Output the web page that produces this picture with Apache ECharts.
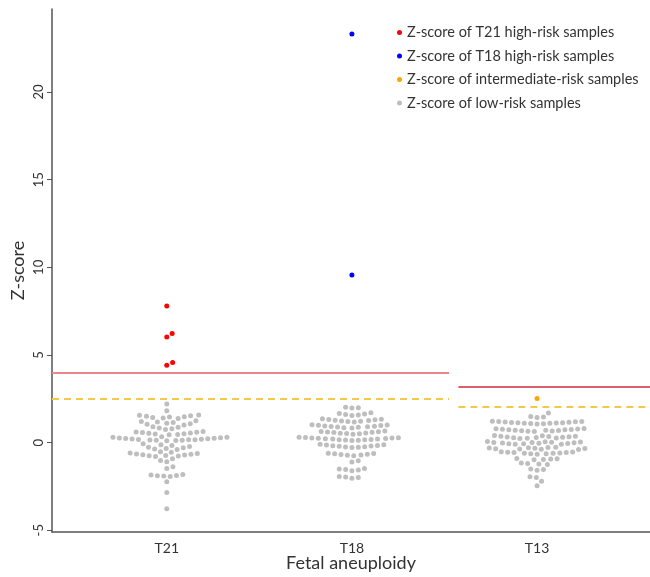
<!DOCTYPE html>
<html>
<head>
<meta charset="utf-8">
<script src="https://cdn.jsdelivr.net/npm/echarts@6/dist/echarts.min.js"></script>
<style>
  html, body { margin: 0; padding: 0; background: #fff; }
  #chart { width: 650px; height: 577px; }
</style>
</head>
<body>
<div id="chart"></div>
<script>
// categories on the x axis
var groups = ['T21', 'T18', 'T13'];

// low-risk Z-scores per group
var lowT21 = [2.20, 1.82,
    1.58, 1.56, 1.53, 1.51, 1.48, 1.46, 1.43, 1.41, 1.38,
    1.25, 1.21, 1.18, 1.15, 1.11, 1.08, 1.05, 1.01,
    0.91, 0.87, 0.83, 0.79, 0.75,
    0.63, 0.61, 0.59, 0.57, 0.55, 0.53, 0.51, 0.49, 0.47, 0.45,
    0.33, 0.31, 0.30, 0.28, 0.27, 0.25, 0.24, 0.22, 0.21, 0.19, 0.18, 0.17, 0.16, 0.15, 0.14, 0.13, 0.12, 0.11,
    -0.07, -0.12, -0.17, -0.22, -0.27, -0.30, -0.33, -0.37, -0.40,
    -0.52, -0.55, -0.59, -0.62, -0.65, -0.67, -0.69, -0.71, -0.73, -0.75, -0.77, -0.79,
    -0.92, -1.02, -1.09,
    -1.37, -1.47,
    -1.82, -1.85, -1.87, -1.89, -1.91, -1.93,
    -2.24, -2.84, -3.78];
var lowT18 = [2.02, 1.99, 1.97,
    1.70, 1.66, 1.63, 1.60, 1.57, 1.54,
    1.36, 1.34, 1.32, 1.30, 1.28, 1.26, 1.24, 1.22, 1.20, 1.18,
    1.02, 1.00, 0.99, 0.97, 0.95, 0.93, 0.92, 0.90, 0.89, 0.87, 0.85, 0.84,
    0.66, 0.64, 0.62, 0.61, 0.59, 0.57, 0.55, 0.54, 0.52, 0.50, 0.48,
    0.30, 0.29, 0.28, 0.27, 0.26, 0.25, 0.23, 0.22, 0.21, 0.20, 0.18, 0.17, 0.16, 0.15, 0.13, 0.12,
    -0.10, -0.12, -0.14, -0.16, -0.18, -0.19, -0.21, -0.23, -0.25, -0.26, -0.28,
    -0.60, -0.62, -0.64, -0.66, -0.68, -0.70, -0.72, -0.75,
    -1.03, -1.10,
    -1.47, -1.50, -1.53, -1.56, -1.60,
    -1.93, -1.96, -1.99, -2.03];
var lowT13 = [1.69,
    1.49, 1.46, 1.43,
    1.22, 1.21, 1.20, 1.19, 1.17, 1.16, 1.15, 1.14, 1.13, 1.12, 1.11, 1.10, 1.09, 1.07, 1.06,
    0.80, 0.79, 0.78, 0.76, 0.75, 0.74, 0.73, 0.71, 0.70, 0.69, 0.68, 0.66, 0.65, 0.64,
    0.40, 0.39, 0.37, 0.36, 0.35, 0.33, 0.32, 0.31, 0.29, 0.28, 0.27, 0.25, 0.24,
    0.06, 0.05, 0.04, 0.02, 0.01, 0.00, -0.01, -0.02, -0.04, -0.05, -0.06, -0.07, -0.09, -0.10,
    -0.27, -0.28, -0.30, -0.31, -0.32, -0.34, -0.35, -0.36, -0.38, -0.39,
    -0.52, -0.53, -0.55, -0.56, -0.57, -0.59, -0.60, -0.61, -0.63, -0.64, -0.66,
    -0.90, -0.92, -0.94, -0.96, -0.98,
    -1.16, -1.19, -1.22, -1.25,
    -1.51, -1.54, -1.57,
    -1.95, -1.99,
    -2.20, -2.46];

// high / intermediate risk Z-scores
var highT21 = [7.79, 6.23, 6.03, 4.57, 4.42];
var highT18 = [23.31, 9.56];
var midT13 = [2.51];

// cut-offs: [T21 & T18, T13]
var highCut = [4.0, 3.18];
var midCut = [2.5, 2.07];

var yTicks = [-5, 0, 5, 10, 15, 20];

var names = ['Z-score of T21 high-risk samples', 'Z-score of T18 high-risk samples',
    'Z-score of intermediate-risk samples', 'Z-score of low-risk samples'];

var font = 'Lato';
var xMin = 0.38, xMax = 3.61, split1 = 2.525, split2 = 2.575;

var myChart = echarts.init(document.getElementById('chart'));

function cutLine(y1, y2, color, type) {
    return {
        symbol: 'none',
        silent: true,
        label: { show: false },
        lineStyle: { color: color, width: 2, type: type },
        data: [
            [{ coord: [xMin, y1] }, { coord: [split1, y1] }],
            [{ coord: [split2, y2] }, { coord: [xMax, y2] }]
        ]
    };
}

var option = {
    animation: false,
    grid: { left: 52, right: 0, top: 9, bottom: 45, outerBoundsMode: 'none' },
    legend: {
        orient: 'vertical',
        left: 392,
        top: 19,
        icon: 'circle',
        itemWidth: 5,
        itemHeight: 5,
        itemGap: 6.5,
        data: names,
        textStyle: { fontFamily: font, fontSize: 14.5, color: '#333', lineHeight: 17 }
    },
    xAxis: {
        type: 'value',
        min: xMin,
        max: xMax,
        name: 'Fetal aneuploidy',
        nameLocation: 'middle',
        nameGap: 22,
        nameMoveOverlap: false,
        nameTextStyle: { fontFamily: font, fontSize: 18, color: '#333' },
        splitLine: { show: false },
        axisLine: { show: true, onZero: false, lineStyle: { color: '#555', width: 1.5 } },
        axisTick: { show: false },
        axisLabel: {
            customValues: [1, 2, 3],
            formatter: function (v) { return groups[Math.round(v) - 1]; },
            fontFamily: font, fontSize: 14, color: '#333', margin: 9
        }
    },
    yAxis: {
        type: 'value',
        min: -5.1,
        max: 24.74,
        name: 'Z-score',
        nameLocation: 'middle',
        nameGap: 25,
        nameMoveOverlap: false,
        nameTextStyle: { fontFamily: font, fontSize: 18, color: '#333' },
        splitLine: { show: false },
        axisLine: { show: true, onZero: false, lineStyle: { color: '#555', width: 1.5 } },
        axisTick: { show: true, customValues: yTicks, length: 5, lineStyle: { color: '#555' } },
        axisLabel: {
            customValues: yTicks,
            rotate: 90,
            fontFamily: font, fontSize: 13, color: '#333', margin: 7
        }
    },
    series: []
};

// first pass: only axes, to read the pixel scale
myChart.setOption(option);
var p0 = myChart.convertToPixel({ gridIndex: 0 }, [1, 0]);
var p1 = myChart.convertToPixel({ gridIndex: 0 }, [2, 1]);
var sx = p1[0] - p0[0], sy = p0[1] - p1[1];

// beeswarm: each point as close to the centre as possible without overlap
function swarm(values, center, d) {
    var placed = [], out = [];
    var order = values.map(function (v, i) { return i; });
    order.sort(function (a, b) { return values[a] - values[b]; });
    order.forEach(function (i) {
        var y = values[i] * sy;
        var cands = [0];
        placed.forEach(function (p) {
            var dy = Math.abs(p.y - y);
            if (dy < d) {
                var o = Math.sqrt(d * d - dy * dy);
                cands.push(p.x + o, p.x - o);
            }
        });
        cands.sort(function (a, b) { return Math.abs(a) - Math.abs(b) || b - a; });
        var x = 0;
        for (var k = 0; k < cands.length; k++) {
            var c = cands[k], ok = true;
            for (var j = 0; j < placed.length; j++) {
                var dx = placed[j].x - c, dy2 = placed[j].y - y;
                if (dx * dx + dy2 * dy2 < d * d - 0.01) { ok = false; break; }
            }
            if (ok) { x = c; break; }
        }
        placed.push({ x: x, y: y });
        out[i] = [center + x / sx, values[i]];
    });
    return out;
}

var D = 6.4;
var lowData = swarm(lowT21, 1, D).concat(swarm(lowT18, 2, D), swarm(lowT13, 3, D));

function dots(name, data, color) {
    return {
        name: name, type: 'scatter', symbol: 'circle', symbolSize: 5,
        itemStyle: { color: color, opacity: 1 }, data: data, z: 3
    };
}

var lines = {
    type: 'line', data: [], silent: true, z: 2,
    markLine: cutLine(highCut[0], highCut[1], '#e8868b', 'solid')
};
var dashed = {
    type: 'line', data: [], silent: true, z: 2,
    markLine: cutLine(midCut[0], midCut[1], '#f2c94c', [7, 5])
};
// T13 red cut-off is a bit darker
lines.markLine.data[1][0].lineStyle = { color: '#d9606a' };
lines.markLine.data[1][1].lineStyle = { color: '#d9606a' };

option.series = [
    dots(names[0], swarm(highT21, 1, D), '#ff0000'),
    dots(names[1], swarm(highT18, 2, D), '#0000ff'),
    dots(names[2], swarm(midT13, 3, D), '#ffa500'),
    dots(names[3], lowData, '#bebebe'),
    lines, dashed
];

myChart.setOption(option);
</script>
</body>
</html>
